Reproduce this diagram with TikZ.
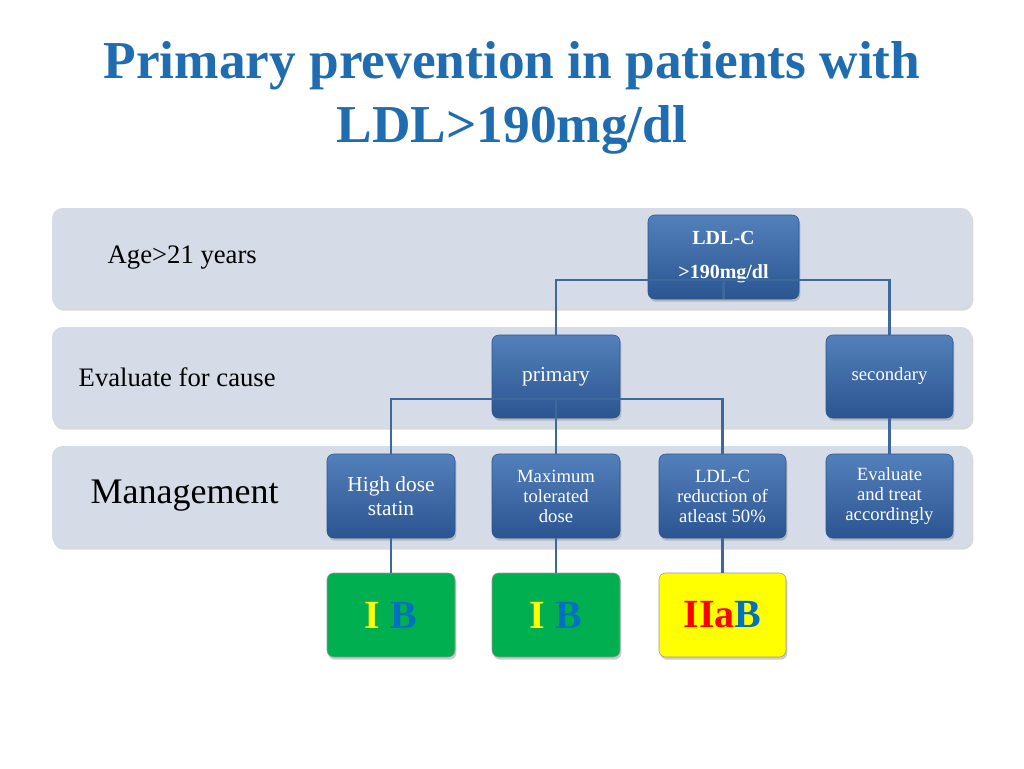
\documentclass[tikz,border=0pt]{standalone}
\usepackage{fontspec}
\setmainfont{Liberation Serif}
\usetikzlibrary{shadows}
\definecolor{ttl}{HTML}{1F6CB0}
\definecolor{band}{HTML}{D5DBE7}
\definecolor{bx}{HTML}{3569AE}
\definecolor{bxd}{HTML}{2A5590}
\definecolor{ln}{HTML}{3E679C}
\definecolor{grn}{HTML}{00B050}
\definecolor{ylw}{HTML}{FFFF00}
\definecolor{gb}{HTML}{0070C0}
\begin{document}
\begin{tikzpicture}[x=0.75pt,y=-0.75pt,
 bandbox/.style={fill=band,rounded corners=8pt,drop shadow={shadow xshift=1pt,shadow yshift=-2pt,opacity=0.3}},
 bluebox/.style={draw=bxd,top color=bx!85!white,bottom color=bxd,rounded corners=5pt,text=white,align=center,font=\fontsize{14}{15}\selectfont,inner sep=2pt,drop shadow={shadow xshift=1pt,shadow yshift=-2pt,opacity=0.4}},
 gradebox/.style={draw=black!40,rounded corners=5pt,align=center,font=\fontsize{30}{32}\selectfont\bfseries,drop shadow={shadow xshift=1pt,shadow yshift=-2pt,opacity=0.4}},
 conn/.style={draw=ln,line width=1.6pt}]
\useasboundingbox (0,0) rectangle (1024,768);
\node[text=ttl,font=\fontsize{40}{48}\selectfont\bfseries,align=center] (title) at (512,98) {Primary prevention in patients with\\LDL\textgreater190mg/dl};
\fill[bandbox] (52,208) rectangle (972,308);
\fill[bandbox] (52,327) rectangle (972,427);
\fill[bandbox] (52,446) rectangle (972,547);
\node[anchor=west,font=\fontsize{20}{22}\selectfont] (l1) at (103,258) {Age\textgreater21 years};
\node[anchor=west,font=\fontsize{20}{22}\selectfont] (l2) at (74,377) {Evaluate for cause};
\node[anchor=west,font=\fontsize{27}{30}\selectfont] (l3) at (86,496) {Management};
\node[bluebox,minimum width=151*0.75pt,minimum height=84*0.75pt,font=\fontsize{15}{26}\selectfont\bfseries] (ldl) at (723.5,257) {LDL-C\\\textgreater190mg/dl};
\node[bluebox,minimum width=128*0.75pt,minimum height=83*0.75pt,font=\fontsize{16}{18}\selectfont] (prim) at (556,376.5) {primary};
\node[bluebox,minimum width=127*0.75pt,minimum height=83*0.75pt] (sec) at (889.5,376.5) {secondary};
\node[bluebox,minimum width=128*0.75pt,minimum height=84*0.75pt,font=\fontsize{16}{18}\selectfont] (hds) at (391,496) {High dose\\statin};
\node[bluebox,minimum width=128*0.75pt,minimum height=84*0.75pt] (mtd) at (556,496) {Maximum\\tolerated\\dose};
\node[bluebox,minimum width=127*0.75pt,minimum height=84*0.75pt] (red) at (722.5,496) {LDL-C\\reduction of\\atleast 50\%};
\node[bluebox,minimum width=127*0.75pt,minimum height=84*0.75pt] (evt) at (889.5,496) {Evaluate\\and treat\\accordingly};
\node[gradebox,fill=grn,minimum width=128*0.75pt,minimum height=84*0.75pt] (g1) at (391,615) {\textcolor{ylw}{I} \textcolor{gb}{B}};
\node[gradebox,fill=grn,minimum width=128*0.75pt,minimum height=84*0.75pt] (g2) at (556,615) {\textcolor{ylw}{I} \textcolor{gb}{B}};
\node[gradebox,fill=ylw,minimum width=127*0.75pt,minimum height=84*0.75pt] (g3) at (722.5,615) {\textcolor{red}{IIa}\textcolor{gb}{B}};
\draw[conn] (ldl.south) -- ++(0,-19) coordinate (j1);
\draw[conn] (prim.north) |- (j1) -| (sec.north);
\draw[conn] (prim.south) -- ++(0,-19) coordinate (j2);
\draw[conn] (hds.north) |- (j2) -| (red.north);
\draw[conn] (j2) -- (mtd.north);
\draw[conn] (sec.south) -- (evt.north);
\draw[conn] (hds.south) -- (g1.north);
\draw[conn] (mtd.south) -- (g2.north);
\draw[conn] (red.south) -- (g3.north);
\end{tikzpicture}
\end{document}
